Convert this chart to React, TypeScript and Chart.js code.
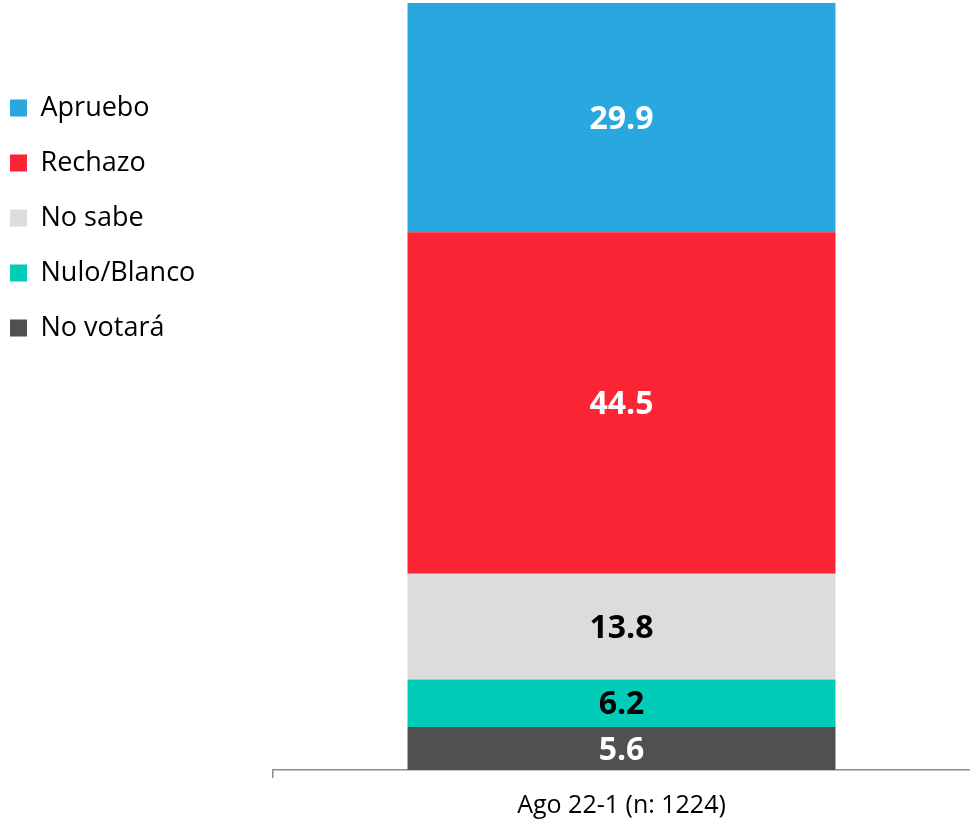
import React, { useEffect, useRef } from "react";
import { Chart, registerables } from "chart.js";

Chart.register(...registerables);

const categories = ["Ago 22-1 (n: 1224)"];
const seriesNames = ["No votará", "Nulo/Blanco", "No sabe", "Rechazo", "Apruebo"];
const noVotara = [5.6];
const nuloBlanco = [6.2];
const noSabe = [13.8];
const rechazo = [44.5];
const apruebo = [29.9];
const seriesColors = ["#505050", "#00CCB8", "#DCDCDC", "#FC2536", "#29A8E0"];
const labelColors = ["#FFFFFF", "#000000", "#000000", "#FFFFFF", "#FFFFFF"];

const FONT = "'Open Sans', 'Liberation Sans', sans-serif";
const PLOT_LEFT = 273;
const LAYOUT_LEFT = -18;

const valueLabels = {
  id: "valueLabels",
  afterDatasetsDraw(chart: any) {
    const ctx = chart.ctx;
    ctx.save();
    ctx.font = `bold 32px ${FONT}`;
    ctx.textAlign = "center";
    ctx.textBaseline = "middle";
    chart.data.datasets.forEach((ds: any, i: number) => {
      const meta = chart.getDatasetMeta(i);
      meta.data.forEach((el: any, j: number) => {
        const v = ds.data[j];
        const cy = (el.y + el.base) / 2;
        ctx.fillStyle = labelColors[i];
        ctx.fillText(v.toFixed(1), el.x, cy + 2);
      });
    });
    ctx.restore();
  },
};

export default function App() {
  const ref = useRef<HTMLCanvasElement>(null);
  useEffect(() => {
    document.body.style.margin = "0";
    const values = [noVotara, nuloBlanco, noSabe, rechazo, apruebo];
    const chart = new Chart(ref.current!, {
      type: "bar",
      data: {
        labels: categories,
        datasets: seriesNames.map((name, i) => ({
          label: name,
          data: values[i],
          backgroundColor: seriesColors[i],
          borderWidth: 0,
          barPercentage: 1,
          categoryPercentage: 0.614,
        })),
      },
      options: {
        responsive: false,
        animation: false,
        layout: { padding: { left: LAYOUT_LEFT, top: 3, right: 0, bottom: 0 } },
        plugins: {
          tooltip: { enabled: false },
          legend: {
            position: "left",
            align: "start",
            reverse: true,
            title: { display: true, text: " ", font: { size: 12 }, padding: { top: 49, bottom: 0 } },
            labels: {
              boxWidth: 17,
              boxHeight: 17,
              padding: 28,
              color: "#000",
              font: { family: FONT, size: 27 },
            },
          },
        },
        scales: {
          x: {
            stacked: true,
            grid: {
              display: true,
              drawOnChartArea: false,
              drawTicks: true,
              tickLength: 8,
              color: (c: any) => (c.index === 0 ? "#8c8c8c" : "rgba(0,0,0,0)"),
              lineWidth: 1.5,
            },
            border: { display: true, color: "#8c8c8c", width: 1.5 },
            ticks: { color: "#000", font: { family: FONT, size: 25 }, padding: 13 },
            afterFit: (scale: any) => {
              scale.height = 53;
            },
          },
          y: {
            stacked: true,
            min: 0,
            max: 100,
            grid: { display: false },
            border: { display: false },
            ticks: { display: false },
            afterFit: (scale: any) => {
              const lw = scale.chart.legend ? scale.chart.legend.width : 0;
              scale.width = Math.max(0, PLOT_LEFT - LAYOUT_LEFT - lw);
            },
          },
        },
      },
      plugins: [valueLabels],
    });
    return () => chart.destroy();
  }, []);
  return (
    <div style={{ width: 970, height: 823 }}>
      <canvas ref={ref} width={970} height={823} style={{ display: "block" }} />
    </div>
  );
}
